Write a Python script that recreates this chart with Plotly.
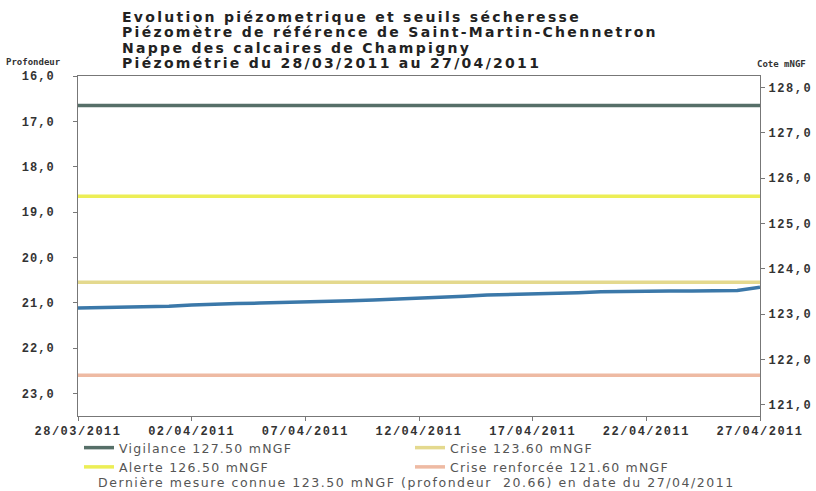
import plotly.graph_objects as go
import pandas as pd

# ---- data ----
dates = pd.date_range("2011-03-28", "2011-04-27", freq="D").strftime("%Y-%m-%d").tolist()
depth = [21.12, 21.11, 21.10, 21.09, 21.08, 21.05, 21.03, 21.02, 21.01, 21.00,
         20.99, 20.97, 20.96, 20.94, 20.92, 20.91, 20.89, 20.86, 20.83, 20.82,
         20.81, 20.80, 20.78, 20.76, 20.75, 20.75, 20.74, 20.74, 20.73, 20.73, 20.66]

threshold_names = ["Vigilance 127.50 mNGF", "Alerte 126.50 mNGF",
                   "Crise 123.60 mNGF", "Crise renforcée 121.60 mNGF"]
threshold_levels = [127.6, 125.6, 123.7, 121.65]   # as drawn (cote mNGF)
threshold_colors = ["#566f68", "#ecee55", "#e4d98e", "#eebaa3"]
threshold_legend = ["legend", "legend", "legend2", "legend2"]

depth_ticks = [16, 17, 18, 19, 20, 21, 22, 23]
depth_ticktext = ["16,0", "17,0", "18,0", "19,0", "20,0", "21,0", "22,0", "23,0"]
cote_ticks = [121, 122, 123, 124, 125, 126, 127, 128]
cote_ticktext = ["121,0", "122,0", "123,0", "124,0", "125,0", "126,0", "127,0", "128,0"]
x_ticks = ["2011-03-28", "2011-04-02", "2011-04-07", "2011-04-12",
           "2011-04-17", "2011-04-22", "2011-04-27"]
x_ticktext = ["28/03/2011", "02/04/2011", "07/04/2011", "12/04/2011",
              "17/04/2011", "22/04/2011", "27/04/2011"]

title_lines = ["Evolution piézometrique et seuils sécheresse",
               "Piézomètre de référence de Saint-Martin-Chennetron",
               "Nappe des calcaires de Champigny",
               "Piézométrie du 28/03/2011 au 27/04/2011"]
footer = "Dernière mesure connue 123.50 mNGF (profondeur  20.66) en date du 27/04/2011"

ground = 144.25
depth_range = [23.5, 16.0]

W, H = 816, 491
L, R, T, B = 78, 56, 76, 75
PW, PH = W - L - R, H - T - B


def spaced(s, px):
    return f'<span style="letter-spacing:{px}px">{s}</span>'


fig = go.Figure()
for name, lvl, col, lg in zip(threshold_names, threshold_levels, threshold_colors, threshold_legend):
    fig.add_trace(go.Scatter(x=[dates[0], dates[-1]], y=[lvl, lvl], mode="lines",
                             name=spaced(name, 1.25), line=dict(color=col, width=3.5),
                             yaxis="y2", legend=lg))
fig.add_trace(go.Scatter(x=dates, y=depth, mode="lines", showlegend=False,
                         line=dict(color="#3b78a9", width=3.5), yaxis="y"))

tickfont = dict(family="Liberation Mono", size=12, color="#333", weight="bold")
legfont = dict(family="DejaVu Sans", size=12.5, color="#555")
axis_common = dict(showgrid=False, zeroline=False, showline=True, linecolor="#777",
                   linewidth=1, ticks="outside", ticklen=4, tickcolor="#777",
                   tickfont=tickfont, automargin=False)
fig.update_layout(
    width=W, height=H,
    margin=dict(l=L, r=R, t=T, b=B, autoexpand=False),
    paper_bgcolor="white", plot_bgcolor="white",
    xaxis=dict(type="date", range=[dates[0], dates[-1]], tickvals=x_ticks,
               ticktext=[spaced(t, 1.5) for t in x_ticktext], mirror=True, **axis_common),
    yaxis=dict(range=depth_range, tickvals=depth_ticks,
               ticktext=[spaced(t, 1.0) for t in depth_ticktext],
               ticklabelstandoff=16, **axis_common),
    yaxis2=dict(range=[ground - depth_range[0], ground - depth_range[1]], overlaying="y",
                side="right", tickvals=cote_ticks,
                ticktext=[spaced(t, 1.6) for t in cote_ticktext],
                ticklabelstandoff=1, **axis_common),
    legend=dict(orientation="v", x=79 / W, y=1 - 433 / H, xref="container", yref="container",
                xanchor="left", yanchor="top", tracegroupgap=0, font=legfont,
                bgcolor="rgba(0,0,0,0)", itemwidth=30),
    legend2=dict(orientation="v", x=410 / W, y=1 - 433 / H, xref="container", yref="container",
                 xanchor="left", yanchor="top", tracegroupgap=0, font=legfont,
                 bgcolor="rgba(0,0,0,0)", itemwidth=30),
    showlegend=True,
)

for i, line in enumerate(title_lines):
    fig.add_annotation(text=spaced(line, 2.3),
                       xref="paper", yref="paper", x=(120 - L) / PW,
                       y=1 + (T - (17 + 15.3 * i)) / PH, xanchor="left",
                       yanchor="middle", showarrow=False,
                       font=dict(family="DejaVu Sans", size=14, color="#222", weight="bold"))

fig.add_annotation(text="Profondeur", xref="paper", yref="paper", x=(4 - L) / PW,
                   y=1 + (T - 62) / PH, xanchor="left", yanchor="middle",
                   showarrow=False,
                   font=dict(family="DejaVu Sans Mono", size=9, color="#333", weight="bold"))
fig.add_annotation(text="Cote mNGF", xref="paper", yref="paper", x=(808 - L) / PW,
                   y=1 + (T - 64) / PH, xanchor="right", yanchor="middle",
                   showarrow=False,
                   font=dict(family="DejaVu Sans Mono", size=9, color="#333", weight="bold"))
fig.add_annotation(text=spaced(footer, 1.55), xref="paper", yref="paper", x=(96 - L) / PW,
                   y=-(482 - (H - B)) / PH, xanchor="left", yanchor="middle",
                   showarrow=False, font=legfont)

fig.write_html("out.html", config={"displayModeBar": False},
               post_script="document.body.style.margin='0px';document.body.style.overflow='hidden';")
